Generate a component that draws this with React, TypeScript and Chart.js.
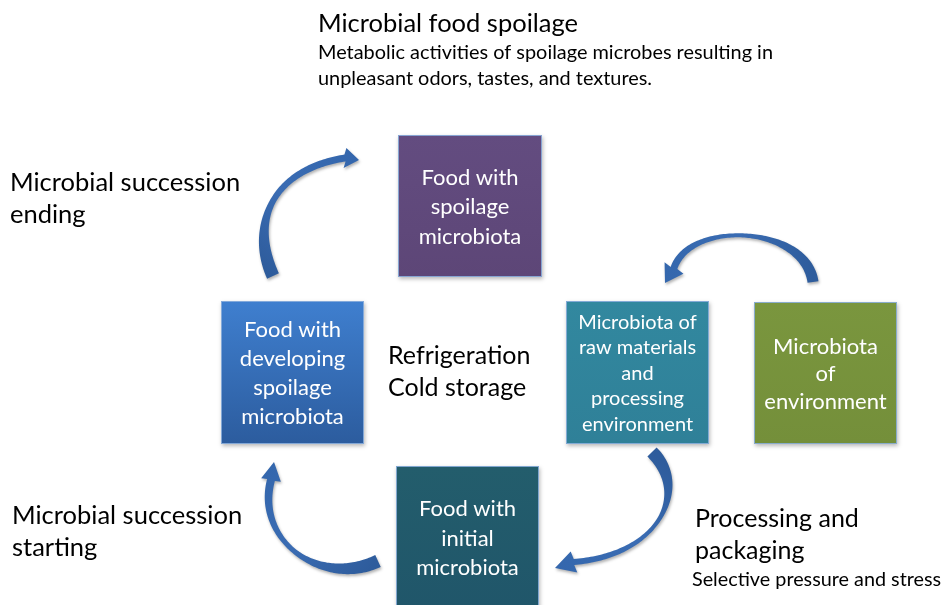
import React, { useEffect, useRef } from "react";
import { Chart, registerables } from "chart.js";
Chart.register(...registerables);

// ---- diagram data (diagram units == 945 x 605 frame) ----
const boxLines: string[][] = [
  ["Food with", "spoilage", "microbiota"],
  ["Food with", "developing", "spoilage", "microbiota"],
  ["Microbiota of", "raw materials", "and", "processing", "environment"],
  ["Microbiota", "of", "environment"],
  ["Food with", "initial", "microbiota"],
];
const boxLeft = [398, 221, 566, 754, 396];
const boxRight = [542, 364, 709, 897, 539];
const boxTop = [135, 301, 301, 302, 466];
const boxBottom = [277, 444, 444, 444, 609];
const boxLineGap = [29.5, 29, 25.5, 27.5, 29.5];
const boxFontSize = [22, 22, 20, 22, 22];
const boxTopColor = ["#634c80", "#3f7fcf", "#32889f", "#7a963e", "#235d6c"];
const boxBottomColor = ["#5d4677", "#2c5c9e", "#2f8098", "#748f3a", "#20566a"];

const labelTexts = [
  "Microbial food spoilage",
  "Metabolic activities of spoilage microbes resulting in",
  "unpleasant odors, tastes, and textures.",
  "Microbial succession",
  "ending",
  "Refrigeration",
  "Cold storage",
  "Microbial succession",
  "starting",
  "Processing and",
  "packaging",
  "Selective pressure and stress",
];
const labelX = [318, 318, 318, 10, 10, 388, 388, 12, 12, 695, 695, 692];
const labelY = [24, 53, 79, 183, 215, 356, 388, 516, 548, 519, 551, 580];
const labelSize = [25.5, 19.9, 19.9, 25.5, 25.5, 25, 25, 25.5, 25.5, 25, 25, 19.8];

// arrows: tail, control 1, control 2, head base, tip
const arrowTail = [[273, 276], [813, 282], [652, 452], [378, 561]];
const arrowC1 = [[250, 225], [805, 225], [690, 490], [320, 588]];
const arrowC2 = [[270, 170], [690, 220], [660, 555], [255, 540]];
const arrowBase = [[345, 158], [674, 268], [574, 562], [271, 480]];
const arrowTip = [[359, 160], [665, 283], [555, 568], [274, 462]];
// widths: tail, middle, near head, head half-width
const arrowTailW = [13, 11, 13, 13];
const arrowMidW = [6, 4, 4, 5];
const arrowHeadW = [7, 7, 6, 8];
const arrowHeadHalf = [10, 11, 11, 10];

const FONT = "Lato, 'Open Sans', sans-serif";

function cub(a: number, b: number, c: number, d: number, t: number) {
  const u = 1 - t;
  return u * u * u * a + 3 * u * u * t * b + 3 * u * t * t * c + t * t * t * d;
}
function dcub(a: number, b: number, c: number, d: number, t: number) {
  const u = 1 - t;
  return 3 * u * u * (b - a) + 6 * u * t * (c - b) + 3 * t * t * (d - c);
}
function smooth(a: number, b: number, s: number) {
  const k = s * s * (3 - 2 * s);
  return a + (b - a) * k;
}

const diagramPlugin = {
  id: "diagram",
  afterDraw(chart: any) {
    const ctx: CanvasRenderingContext2D = chart.ctx;
    const xs = chart.scales.x;
    const ys = chart.scales.y;
    const px = (v: number) => xs.getPixelForValue(v);
    const py = (v: number) => ys.getPixelForValue(v);

    // boxes
    for (let i = 0; i < boxLines.length; i++) {
      const x0 = px(boxLeft[i]);
      const x1 = px(boxRight[i]);
      const y0 = py(boxTop[i]);
      const y1 = py(boxBottom[i]);
      ctx.save();
      ctx.shadowColor = "rgba(0,0,0,0.28)";
      ctx.shadowBlur = 4;
      ctx.shadowOffsetX = 1;
      ctx.shadowOffsetY = 2;
      const g = ctx.createLinearGradient(0, y0, 0, y1);
      g.addColorStop(0, boxTopColor[i]);
      g.addColorStop(1, boxBottomColor[i]);
      ctx.fillStyle = g;
      ctx.fillRect(x0, y0, x1 - x0, y1 - y0);
      ctx.restore();
      ctx.save();
      ctx.strokeStyle = "rgba(140,175,220,0.9)";
      ctx.lineWidth = 1;
      ctx.strokeRect(Math.round(x0) + 0.5, Math.round(y0) + 0.5, Math.round(x1 - x0) - 1, Math.round(y1 - y0) - 1);
      ctx.fillStyle = "#ffffff";
      ctx.font = `${boxFontSize[i]}px ${FONT}`;
      ctx.textAlign = "center";
      ctx.textBaseline = "middle";
      const n = boxLines[i].length;
      const cx = (boxLeft[i] + boxRight[i]) / 2;
      const cy = (boxTop[i] + boxBottom[i]) / 2 + 1;
      for (let k = 0; k < n; k++) {
        const ly = cy + (k - (n - 1) / 2) * boxLineGap[i];
        ctx.fillText(boxLines[i][k], px(cx), py(ly));
      }
      ctx.restore();
    }

    // arrows
    for (let i = 0; i < arrowTail.length; i++) {
      const P = [arrowTail[i], arrowC1[i], arrowC2[i], arrowBase[i]].map((p) => [px(p[0]), py(p[1])]);
      const tip = [px(arrowTip[i][0]), py(arrowTip[i][1])];
      const N = 100;
      const left: number[][] = [];
      const right: number[][] = [];
      for (let s = 0; s <= N; s++) {
        const t = s / N;
        const x = cub(P[0][0], P[1][0], P[2][0], P[3][0], t);
        const y = cub(P[0][1], P[1][1], P[2][1], P[3][1], t);
        let dx = dcub(P[0][0], P[1][0], P[2][0], P[3][0], t);
        let dy = dcub(P[0][1], P[1][1], P[2][1], P[3][1], t);
        const l = Math.hypot(dx, dy) || 1;
        dx /= l; dy /= l;
        const w = (t < 0.55
          ? smooth(arrowTailW[i], arrowMidW[i], t / 0.55)
          : smooth(arrowMidW[i], arrowHeadW[i], (t - 0.55) / 0.45)) / 2;
        left.push([x - dy * w, y + dx * w]);
        right.push([x + dy * w, y - dx * w]);
      }
      const bx = P[3][0], by = P[3][1];
      let hx = tip[0] - bx, hy = tip[1] - by;
      const hl = Math.hypot(hx, hy) || 1;
      hx /= hl; hy /= hl;
      const hw = arrowHeadHalf[i];
      ctx.save();
      ctx.shadowColor = "rgba(0,0,0,0.3)";
      ctx.shadowBlur = 3;
      ctx.shadowOffsetX = 1;
      ctx.shadowOffsetY = 2;
      const g = ctx.createLinearGradient(P[0][0], P[0][1], tip[0], tip[1]);
      g.addColorStop(0, "#2e5c9c");
      g.addColorStop(0.5, "#3a6cb3");
      g.addColorStop(1, "#3467ad");
      ctx.fillStyle = g;
      ctx.beginPath();
      ctx.moveTo(left[0][0], left[0][1]);
      for (const p of left) ctx.lineTo(p[0], p[1]);
      ctx.lineTo(bx - hy * hw, by + hx * hw);
      ctx.lineTo(tip[0], tip[1]);
      ctx.lineTo(bx + hy * hw, by - hx * hw);
      for (let s = right.length - 1; s >= 0; s--) ctx.lineTo(right[s][0], right[s][1]);
      ctx.closePath();
      ctx.fill();
      ctx.restore();
    }

    // free labels
    ctx.save();
    ctx.fillStyle = "#000000";
    ctx.textAlign = "left";
    ctx.textBaseline = "middle";
    for (let i = 0; i < labelTexts.length; i++) {
      ctx.font = `${labelSize[i]}px ${FONT}`;
      ctx.fillText(labelTexts[i], px(labelX[i]), py(labelY[i]));
    }
    ctx.restore();
  },
};

export default function App() {
  const ref = useRef<HTMLCanvasElement | null>(null);
  useEffect(() => {
    document.body.style.margin = "0";
    const canvas = ref.current!;
    const chart = new Chart(canvas, {
      type: "scatter",
      data: {
        datasets: [
          {
            data: boxLeft.map((l, i) => ({ x: (l + boxRight[i]) / 2, y: (boxTop[i] + boxBottom[i]) / 2 })),
            pointRadius: 0,
          },
        ],
      },
      options: {
        animation: false,
        responsive: false,
        events: [],
        layout: { padding: 0 },
        plugins: { legend: { display: false }, tooltip: { enabled: false }, title: { display: false } },
        scales: {
          x: { type: "linear", min: 0, max: 945, display: false },
          y: { type: "linear", min: 0, max: 605, reverse: true, display: false },
        },
      },
      plugins: [diagramPlugin],
    });
    return () => chart.destroy();
  }, []);
  return (
    <div style={{ position: "fixed", left: 0, top: 0, width: 945, height: 605, background: "#fff" }}>
      <canvas ref={ref} width={945} height={605} style={{ display: "block" }} />
    </div>
  );
}
